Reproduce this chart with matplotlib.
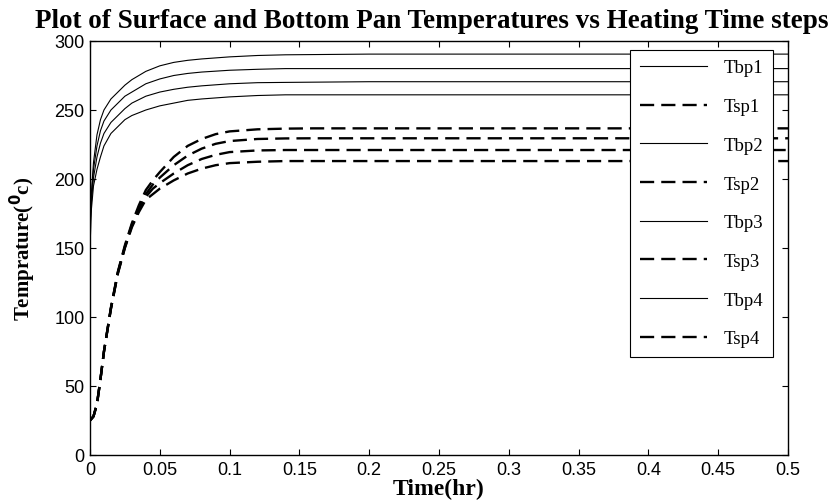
import matplotlib
matplotlib.use("Agg")
import matplotlib.pyplot as plt

# ---- data ----
t_bp = [0, 0.001, 0.0025, 0.005, 0.0075, 0.01, 0.015, 0.02, 0.025, 0.03, 0.04,
        0.05, 0.06, 0.07, 0.08, 0.1, 0.12, 0.14, 0.2, 0.3, 0.4, 0.5]
Tbp1 = [160, 190, 212, 232, 243, 250, 258, 263, 268, 272, 278, 282, 284.5, 286,
        287, 288.5, 289.5, 290, 290.5, 290.5, 290.5, 290.5]
Tbp2 = [165, 187, 207, 224, 235, 242, 250, 255, 260, 263, 269, 272.5, 275, 276.5,
        277.5, 278.8, 279.5, 280, 280, 280, 280, 280]
Tbp3 = [172, 183, 201, 216, 226, 233, 241, 246, 251, 255, 260, 263, 265, 266.5,
        267.5, 269, 269.8, 270, 270.5, 270.5, 270.5, 270.5]
Tbp4 = [150, 178, 195, 207, 216, 224, 233, 238, 243, 246, 250, 253, 255, 257,
        258, 259.5, 260.5, 261, 261, 261, 261, 261]

t_sp = [0, 0.0025, 0.005, 0.0075, 0.01, 0.015, 0.02, 0.025, 0.03, 0.035, 0.04,
        0.045, 0.05, 0.06, 0.07, 0.08, 0.09, 0.1, 0.12, 0.14, 0.16, 0.18, 0.2,
        0.3, 0.4, 0.5]
Tsp1 = [25, 28, 37, 55, 75, 107, 133, 152, 168, 181, 192, 199, 205, 216, 224,
        229, 232.5, 234.5, 236, 236.5, 236.7, 236.7, 236.7, 236.7, 236.7, 236.7]
Tsp2 = [25, 28, 37, 55, 75, 106.5, 132.5, 151, 167, 179, 189, 196, 201, 210, 217,
        222, 225.5, 227.5, 229, 229.4, 229.5, 229.5, 229.5, 229.5, 229.5, 229.5]
Tsp3 = [25, 28, 37, 55, 75, 106, 132, 150.5, 166, 177.5, 187, 193, 197, 204, 210,
        214.5, 217.5, 219.5, 220.7, 221, 221, 221, 221, 221, 221, 221]
Tsp4 = [25, 28, 37, 55, 75, 106, 131.5, 150, 165, 176, 185, 189, 193, 199, 204,
        207.5, 210, 211.5, 212.5, 213, 213, 213, 213, 213, 213, 213]

x_ticks = [0, 0.05, 0.1, 0.15, 0.2, 0.25, 0.3, 0.35, 0.4, 0.45, 0.5]
x_labels = ["0", "0.05", "0.1", "0.15", "0.2", "0.25", "0.3", "0.35", "0.4", "0.45", "0.5"]
y_ticks = [0, 50, 100, 150, 200, 250, 300]

title = "Plot of Surface and Bottom Pan Temperatures vs Heating Time steps"

# ---- figure ----
W, H = 837, 502
fig = plt.figure(figsize=(W / 100, H / 100), dpi=100)
L, R, T, B = 90, 788, 42, 456
ax = fig.add_axes([L / W, 1 - B / H, (R - L) / W, (B - T) / H])

serif = ["Liberation Serif", "DejaVu Serif"]
sans = ["Liberation Sans", "DejaVu Sans"]

thin = dict(color="black", lw=0.8)
dash = dict(color="black", lw=1.7, dashes=(6, 3))

ax.plot(t_bp, Tbp1, label="Tbp1", **thin)
ax.plot(t_sp, Tsp1, label="Tsp1", **dash)
ax.plot(t_bp, Tbp2, label="Tbp2", **thin)
ax.plot(t_sp, Tsp2, label="Tsp2", **dash)
ax.plot(t_bp, Tbp3, label="Tbp3", **thin)
ax.plot(t_sp, Tsp3, label="Tsp3", **dash)
ax.plot(t_bp, Tbp4, label="Tbp4", **thin)
ax.plot(t_sp, Tsp4, label="Tsp4", **dash)

ax.set_xlim(0, 0.5)
ax.set_ylim(0, 300)
ax.set_xticks(x_ticks)
ax.set_xticklabels(x_labels)
ax.set_yticks(y_ticks)
ax.tick_params(direction="in", top=True, right=True, length=4, width=0.8,
               labelsize=13, pad=4)
for lab in ax.get_xticklabels() + ax.get_yticklabels():
    lab.set_fontfamily(sans)
for s in ax.spines.values():
    s.set_linewidth(1.0)

ax.set_title(title, fontfamily=serif, fontweight="bold", fontsize=19.5, pad=10,
             x=0.49)
ax.set_xlabel("Time(hr)", fontfamily=serif, fontweight="bold", fontsize=17, labelpad=0)
ax.set_ylabel("Temprature($^{\\mathbf{0}}$c)", fontfamily=serif, fontweight="bold",
              fontsize=15, labelpad=12)

leg = ax.legend(loc="upper right", bbox_to_anchor=((773 - L) / (R - L), (B - 51) / (B - T)),
                borderaxespad=0, frameon=True, fancybox=False, edgecolor="black",
                framealpha=1, handlelength=3.6, labelspacing=1.15,
                prop={"family": serif, "size": 13.5}, borderpad=0.5, handletextpad=0.9)
leg.get_frame().set_linewidth(0.8)

fig.savefig("out.png", dpi=100)
